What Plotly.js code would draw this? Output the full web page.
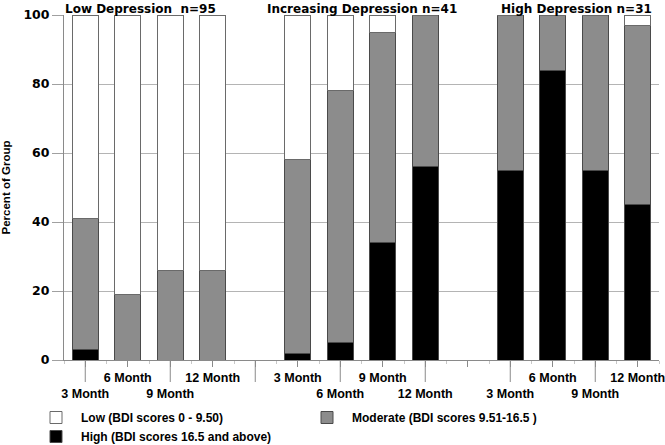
<!DOCTYPE html>
<html>
<head>
<meta charset="utf-8">
<script src="https://cdn.plot.ly/plotly-3.0.1.min.js"></script>
<style>html,body{margin:0;padding:0;background:#fff;}#chart{width:665px;height:445px;}</style>
</head>
<body>
<div id="chart"></div>
<script>
// ---- data ----
var groups = ["Low Depression\u00a0 n=95", "Increasing Depression n=41", "High Depression n=31"];
var months = ["3 Month", "6 Month", "9 Month", "12 Month"];
var highVals = [3, 0, 0, 0, 2, 5, 34, 56, 55, 84, 55, 45];
var moderateVals = [38, 19, 26, 26, 56, 73, 61, 44, 45, 16, 45, 52];
var lowVals = [59, 81, 74, 74, 42, 22, 5, 0, 0, 0, 0, 3];
var seriesNames = ["Low (BDI scores 0 - 9.50)", "Moderate (BDI scores 9.51-16.5 )", "High (BDI scores 16.5 and above)"];

// ---- positions: 4 bars per group plus one empty slot between groups ----
var slotsPerGroup = months.length + 1;
var xs = [];
groups.forEach(function (g, gi) {
  months.forEach(function (m, mi) { xs.push(gi * slotsPerGroup + mi); });
});
var nSlots = groups.length * slotsPerGroup - 1;
var tickvals = [], ticktext = [];
for (var i = 0; i < nSlots; i++) {
  tickvals.push(i);
  var mi = i % slotsPerGroup;
  var label = mi < months.length ? months[mi] : "";
  ticktext.push(i % 2 === 0 ? "<br>" + label : label);
}

var FONT = "Liberation Sans, Arial, Helvetica, sans-serif";
var WIDE = "DejaVu Sans, Verdana, sans-serif";
var lineCol = "#4a4a4a";

var traces = [
  {type: "bar", x: xs, y: highVals, name: seriesNames[2],
   marker: {color: "#000000", line: {color: lineCol, width: 1}}},
  {type: "bar", x: xs, y: moderateVals, name: seriesNames[1],
   marker: {color: "#8c8c8c", line: {color: lineCol, width: 1}}},
  {type: "bar", x: xs, y: lowVals, name: seriesNames[0],
   marker: {color: "#ffffff", line: {color: "#6a6a6a", width: 1}}}
];

var annotations = groups.map(function (g, gi) {
  var shifts = [-9, 0, 2];
  return {
    text: g, xref: "x", yref: "paper",
    x: gi * slotsPerGroup + (months.length - 1) / 2, y: 1,
    xanchor: "center", yanchor: "bottom", yshift: -3, xshift: shifts[gi],
    showarrow: false,
    font: {family: WIDE, size: 12, weight: "bold", color: "#000"}
  };
});

var shapes = [];
tickvals.forEach(function (v) {
  if (v % 2 === 0) {
    shapes.push({type: "line", xref: "x", yref: "paper", x0: v, x1: v,
      y0: 0, y1: -22 / 345, line: {color: "#8a8a8a", width: 1}});
  }
});

var layout = {
  width: 665, height: 445,
  margin: {l: 64, r: 6, t: 15, b: 85, pad: 0, autoexpand: false},
  paper_bgcolor: "#fff", plot_bgcolor: "#fff",
  barmode: "stack", bargap: 0.39,
  showlegend: true,
  font: {family: FONT, size: 12, color: "#000"},
  xaxis: {
    range: [-0.5, nSlots - 0.5], tickmode: "array", tickvals: tickvals, ticktext: ticktext,
    tickangle: 0, automargin: false, ticklabeloverflow: "allow",
    ticks: "outside", ticklen: 6, tickcolor: "#8a8a8a", tickwidth: 1,
    showline: true, linecolor: "#8a8a8a", linewidth: 1,
    showgrid: false, zeroline: false, fixedrange: true,
    tickfont: {family: FONT, size: 12.5, weight: "bold", color: "#000"},
    minor: {tickmode: "linear", tick0: 0.5, dtick: 1, ticks: "outside", ticklen: 3, tickcolor: "#c8c8c8", showgrid: false}
  },
  yaxis: {
    range: [0, 100], tickmode: "linear", tick0: 0, dtick: 20, automargin: false,
    ticks: "outside", ticklen: 11, tickcolor: "#a0a0a0", tickwidth: 1,
    showline: true, linecolor: "#8a8a8a", linewidth: 1,
    showgrid: true, gridcolor: "#b4b4b4", gridwidth: 1, zeroline: false,
    tickfont: {family: WIDE, size: 12.5, weight: "bold", color: "#000"},
    title: {text: "Percent of Group", font: {family: FONT, size: 11.5, weight: "bold", color: "#000"}, standoff: 11}
  },
  legend: {
    orientation: "h", traceorder: "reversed",
    xref: "container", yref: "container",
    x: 31 / 665, xanchor: "left", y: 42 / 445, yanchor: "top",
    itemwidth: 40,
    entrywidth: 216, entrywidthmode: "pixels",
    font: {family: FONT, size: 12, weight: "bold", color: "#000"},
    bgcolor: "rgba(0,0,0,0)"
  },
  annotations: annotations,
  shapes: shapes
};

Plotly.newPlot("chart", traces, layout, {displayModeBar: false, staticPlot: true});
</script>
</body>
</html>
